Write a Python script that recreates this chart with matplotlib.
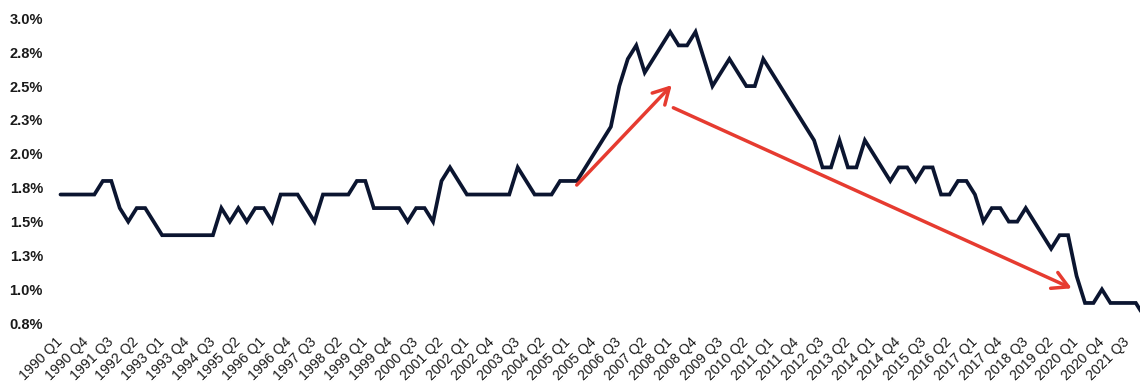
import matplotlib
matplotlib.use("Agg")
import matplotlib.pyplot as plt

plt.rcParams['font.family'] = ['Liberation Sans', 'DejaVu Sans']

# Quarterly values (%), 1990 Q1 .. 2022 Q1
values = [
    1.7, 1.7, 1.7, 1.7, 1.7, 1.8, 1.8, 1.6, 1.5, 1.6,   # 0-9
    1.6, 1.5, 1.4, 1.4, 1.4, 1.4, 1.4, 1.4, 1.4, 1.6,   # 10-19
    1.5, 1.6, 1.5, 1.6, 1.6, 1.5, 1.7, 1.7, 1.7, 1.6,   # 20-29
    1.5, 1.7, 1.7, 1.7, 1.7, 1.8, 1.8, 1.6, 1.6, 1.6,   # 30-39
    1.6, 1.5, 1.6, 1.6, 1.5, 1.8, 1.9, 1.8, 1.7, 1.7,   # 40-49
    1.7, 1.7, 1.7, 1.7, 1.9, 1.8, 1.7, 1.7, 1.7, 1.8,   # 50-59
    1.8, 1.8, 1.9, 2.0, 2.1, 2.2, 2.5, 2.7, 2.8, 2.6,   # 60-69
    2.7, 2.8, 2.9, 2.8, 2.8, 2.9, 2.7, 2.5, 2.6, 2.7,   # 70-79
    2.6, 2.5, 2.5, 2.7, 2.6, 2.5, 2.4, 2.3, 2.2, 2.1,   # 80-89
    1.9, 1.9, 2.1, 1.9, 1.9, 2.1, 2.0, 1.9, 1.8, 1.9,   # 90-99
    1.9, 1.8, 1.9, 1.9, 1.7, 1.7, 1.8, 1.8, 1.7, 1.5,   # 100-109
    1.6, 1.6, 1.5, 1.5, 1.6, 1.5, 1.4, 1.3, 1.4, 1.4,   # 110-119
    1.1, 0.9, 0.9, 1.0, 0.9, 0.9, 0.9, 0.9, 0.8,        # 120-128
]

x_tick_labels = [
    '1990 Q1', '1990 Q4', '1991 Q3', '1992 Q2', '1993 Q1', '1993 Q4', '1994 Q3',
    '1995 Q2', '1996 Q1', '1996 Q4', '1997 Q3', '1998 Q2', '1999 Q1', '1999 Q4',
    '2000 Q3', '2001 Q2', '2002 Q1', '2002 Q4', '2003 Q3', '2004 Q2', '2005 Q1',
    '2005 Q4', '2006 Q3', '2007 Q2', '2008 Q1', '2008 Q4', '2009 Q3', '2010 Q2',
    '2011 Q1', '2011 Q4', '2012 Q3', '2013 Q2', '2014 Q1', '2014 Q4', '2015 Q3',
    '2016 Q2', '2017 Q1', '2017 Q4', '2018 Q3', '2019 Q2', '2020 Q1', '2020 Q4',
    '2021 Q3',
]
tick_step = 3

y_ticks = [0.75, 1.0, 1.25, 1.5, 1.75, 2.0, 2.25, 2.5, 2.75, 3.0]
y_tick_labels = ['0.8%', '1.0%', '1.3%', '1.5%', '1.8%', '2.0%', '2.3%', '2.5%', '2.8%', '3.0%']

# Annotation arrows (data coords: quarter index, value)
arrow_up = ((60.97, 1.77), (72.19, 2.507))
arrow_down = ((72.38, 2.34), (119.43, 1.008))

LINE_COLOR = '#0b1530'
ARROW_COLOR = '#e63b30'

W, H = 1140, 382
fig = plt.figure(figsize=(W / 100, H / 100), dpi=100)
fig.patch.set_facecolor('white')

left_px, top_px, bottom_px = 60.5, 18.3, 323.3
ax = fig.add_axes([left_px / W, (H - bottom_px) / H, 1 - left_px / W, (bottom_px - top_px) / H])
ax.set_facecolor('white')

xs = list(range(len(values)))
ax.plot(xs, values, color=LINE_COLOR, lw=2.7, solid_joinstyle='miter',
        solid_capstyle='round', clip_on=False, zorder=3)

ax.set_xlim(0, (W - left_px) / 8.467)
ax.set_ylim(0.75, 3.0)

ax.set_yticks(y_ticks)
ax.set_yticklabels(y_tick_labels, fontsize=10.5, fontweight='bold', color='#1a1a1a')
ax.set_xticks(list(range(0, len(x_tick_labels) * tick_step, tick_step)))
ax.set_xticklabels(x_tick_labels, rotation=45, ha='right', va='center',
                   rotation_mode='anchor', fontsize=10.2, color='#1a1a1a')
ax.tick_params(axis='y', length=0, pad=12.6)
ax.tick_params(axis='x', length=0, pad=12)

for s in ax.spines.values():
    s.set_visible(False)

for (x0, y0), (x1, y1) in (arrow_up, arrow_down):
    ax.annotate('', xy=(x1, y1), xytext=(x0, y0),
                arrowprops=dict(arrowstyle='->,head_length=0.45,head_width=0.25',
                                color=ARROW_COLOR, lw=2.5, mutation_scale=25,
                                shrinkA=0, shrinkB=0, capstyle='round'),
                annotation_clip=False, zorder=4)

fig.savefig('out.png', dpi=100, facecolor='white')
